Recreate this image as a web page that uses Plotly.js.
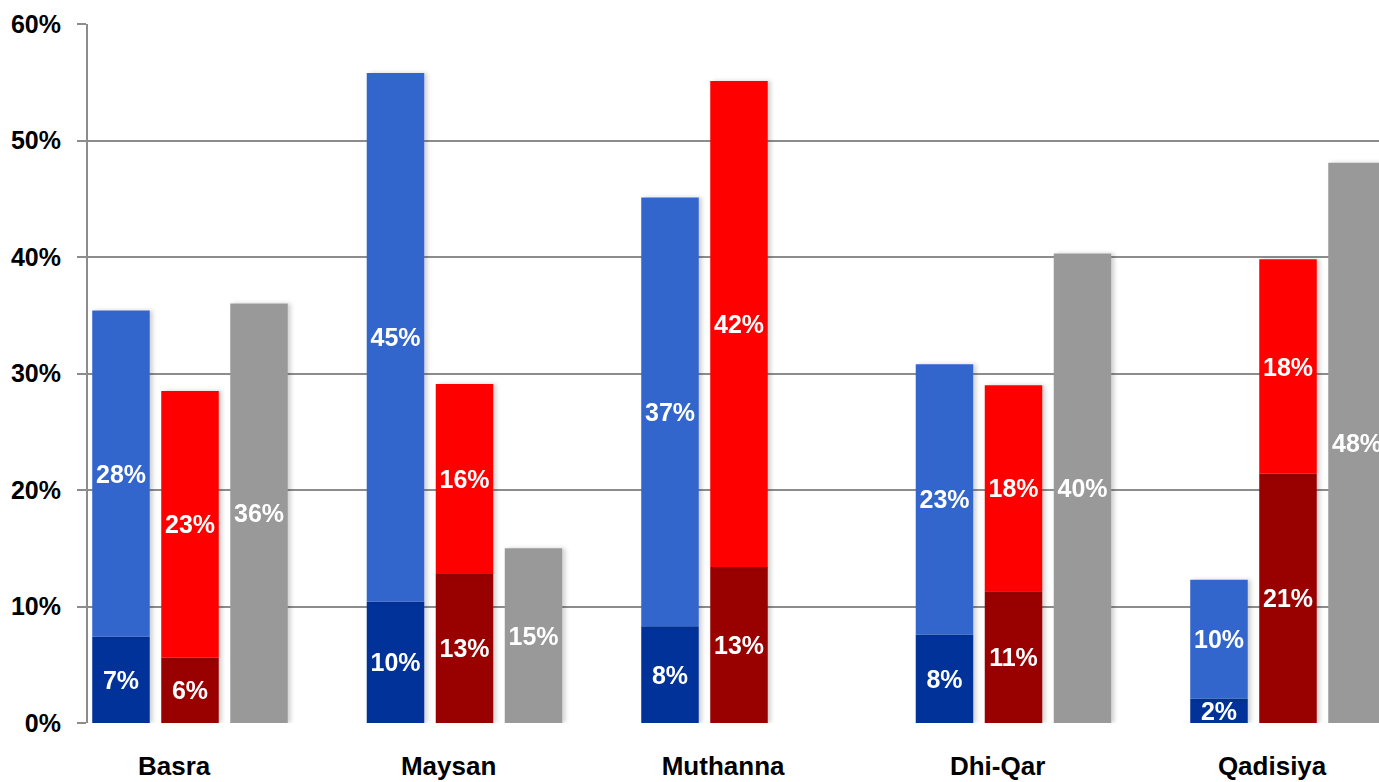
<!DOCTYPE html>
<html>
<head>
<meta charset="utf-8">
<script src="https://cdn.plot.ly/plotly-3.0.1.min.js"></script>
<style>
html,body{margin:0;padding:0;background:#fff;}
#chart{width:1379px;height:782px;}
</style>
</head>
<body>
<div id="chart"></div>
<script>
const categories = ["Basra", "Maysan", "Muthanna", "Dhi-Qar", "Qadisiya"];
const darkBlue  = [7.4, 10.4, 8.3, 7.6, 2.1];
const lightBlue = [28.0, 45.4, 36.8, 23.2, 10.2];
const darkRed   = [5.6, 12.8, 13.4, 11.3, 21.4];
const red       = [22.9, 16.3, 41.7, 17.7, 18.4];
const gray      = [36.0, 15.0, null, 40.3, 48.1];
const yTicks    = [0, 10, 20, 30, 40, 50, 60];

const FONT = "Liberation Sans, Arial, sans-serif";
const BW = 0.2095, GAP = 0.2514, LABEL_SHIFT = -0.058;
const idx = categories.map((c, i) => i);

function barTrace(vals, pos, color) {
  return {
    type: "bar",
    x: idx.map(i => i + pos),
    y: vals,
    width: BW,
    marker: {color: color, line: {width: 0}},
    text: vals.map(v => v == null ? "" : Math.round(v) + "%"),
    textposition: "inside",
    insidetextanchor: "middle",
    constraintext: "none",
    textangle: 0,
    textfont: {family: FONT, size: 25, color: "#ffffff", weight: "bold"},
    hoverinfo: "skip",
    showlegend: false
  };
}

const data = [
  barTrace(darkBlue, -GAP, "#003399"),
  barTrace(lightBlue, -GAP, "#3366CC"),
  barTrace(darkRed, 0, "#990000"),
  barTrace(red, 0, "#FF0000"),
  barTrace(gray, GAP, "#999999")
];

const layout = {
  width: 1379, height: 782,
  margin: {l: 88, r: 0, t: 24, b: 59},
  paper_bgcolor: "#ffffff", plot_bgcolor: "#ffffff",
  barmode: "relative",
  font: {family: FONT, size: 25, color: "#000000", weight: "bold"},
  xaxis: {
    range: [-0.3716, 4.3315],
    tickmode: "array",
    tickvals: idx.map(i => i + LABEL_SHIFT),
    ticktext: categories,
    ticks: "",
    showgrid: false,
    zeroline: false,
    showline: false,
    ticklabelstandoff: 25,
    tickfont: {family: FONT, size: 26, color: "#000000", weight: "bold"}
  },
  yaxis: {
    range: [0, 60],
    tickmode: "array",
    tickvals: yTicks,
    ticktext: yTicks.map(v => v + "%"),
    ticks: "outside",
    ticklen: 9,
    tickwidth: 2,
    tickcolor: "#8c8c8c",
    showgrid: true,
    gridcolor: "#8c8c8c",
    gridwidth: 2,
    zeroline: false,
    showline: true,
    linecolor: "#8c8c8c",
    linewidth: 2,
    ticklabelstandoff: 11,
    tickfont: {family: FONT, size: 25, color: "#000000", weight: "bold"}
  }
};

Plotly.newPlot("chart", data, layout, {displayModeBar: false, staticPlot: true}).then(gd => {
  const svg = gd.querySelector("svg.main-svg");
  const ns = "http://www.w3.org/2000/svg";
  let defs = svg.querySelector("defs");
  if (!defs) { defs = document.createElementNS(ns, "defs"); svg.insertBefore(defs, svg.firstChild); }
  const f = document.createElementNS(ns, "filter");
  f.setAttribute("id", "barShadow");
  f.setAttribute("x", "-20%"); f.setAttribute("y", "-5%");
  f.setAttribute("width", "140%"); f.setAttribute("height", "110%");
  const ds = document.createElementNS(ns, "feDropShadow");
  ds.setAttribute("dx", "3"); ds.setAttribute("dy", "0");
  ds.setAttribute("stdDeviation", "2");
  ds.setAttribute("flood-color", "#000"); ds.setAttribute("flood-opacity", "0.18");
  f.appendChild(ds); defs.appendChild(f);
  gd.querySelectorAll(".barlayer .trace").forEach(t => t.setAttribute("filter", "url(#barShadow)"));
});
</script>
</body>
</html>
